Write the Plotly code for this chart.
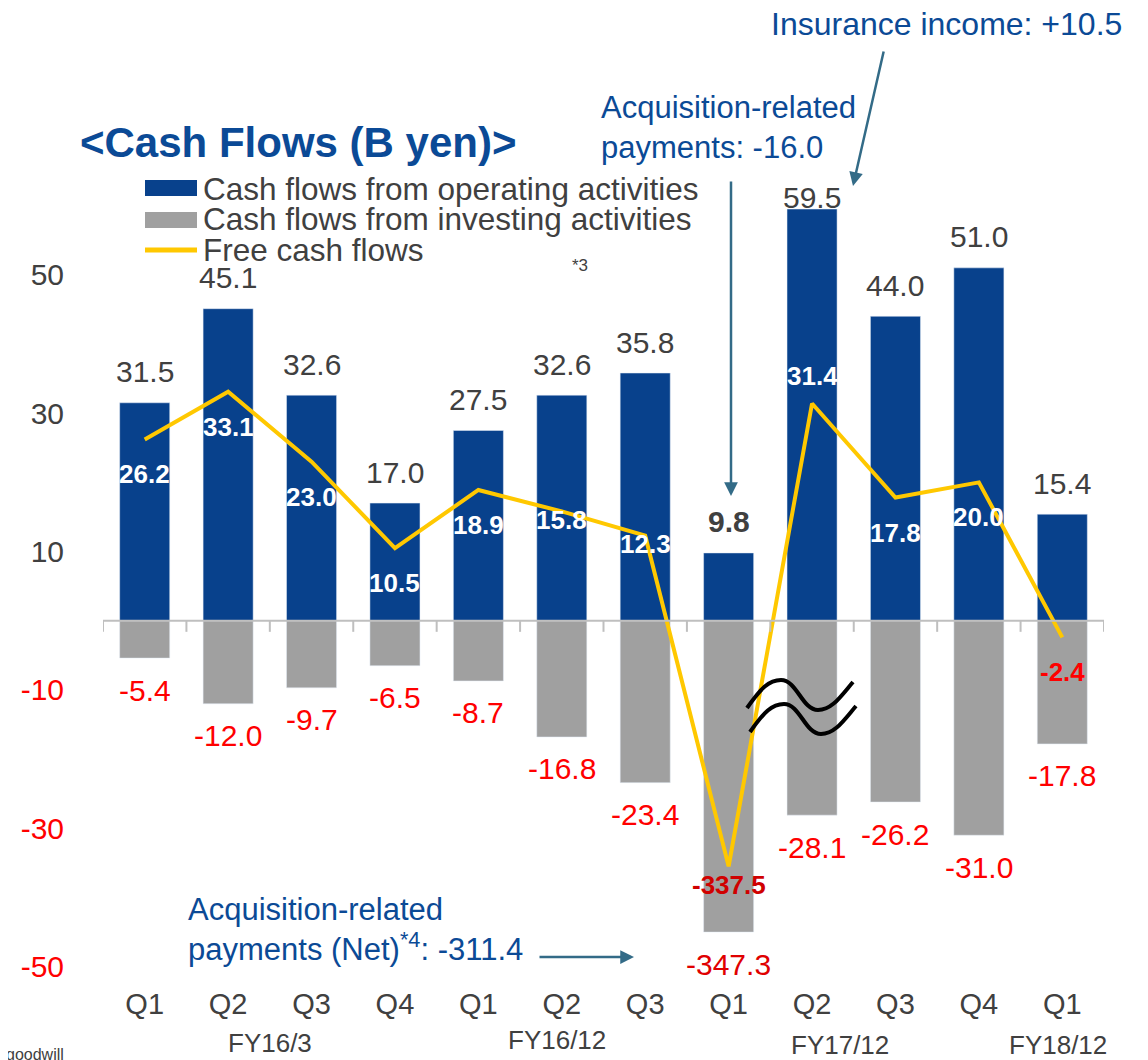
import plotly.graph_objects as go

# ---------------- data ----------------
quarters = ["Q1", "Q2", "Q3", "Q4", "Q1", "Q2", "Q3", "Q1", "Q2", "Q3", "Q4", "Q1"]
fiscal_years = ["FY16/3", "FY16/12", "FY17/12", "FY18/12"]
fiscal_groups = [(0, 3), (4, 6), (7, 10), (11, 11)]
operating = [31.5, 45.1, 32.6, 17.0, 27.5, 32.6, 35.8, 9.8, 59.5, 44.0, 51.0, 15.4]
investing = [-5.4, -12.0, -9.7, -6.5, -8.7, -16.8, -23.4, -347.3, -28.1, -26.2, -31.0, -17.8]
free_cf = [26.2, 33.1, 23.0, 10.5, 18.9, 15.8, 12.3, -337.5, 31.4, 17.8, 20.0, -2.4]
y_ticks = [50, 30, 10, -10, -30, -50]

# broken axis: values beyond the break are drawn at a compressed position
BREAK_LIMIT = -100
BREAK_DRAW_INVESTING = -45.0
BREAK_DRAW_FCF = -35.5
investing_drawn = [v if v > BREAK_LIMIT else BREAK_DRAW_INVESTING for v in investing]
fcf_drawn = [v if v > BREAK_LIMIT else BREAK_DRAW_FCF for v in free_cf]
x = list(range(len(quarters)))

# ---------------- geometry / style ----------------
OFF = 8  # page body margin
W, H = 1140, 1052
L, T = 95, 163
PW, PH = 1001, 813
R, B = W - L - PW, H - T - PH
Y_RANGE = [-52.5, 65]


def px(v):  # page pixel -> paper x
    return (v - OFF - L) / PW


def py(v):  # page pixel -> paper y
    return (OFF + T + PH - v) / PH


BLUE = "#08418C"
GRAY = "#A0A0A0"
YELLOW = "#FFC800"
DARK = "#404040"
RED = "#FF0000"
TXT_BLUE = "#0B4A96"
ARROW = "#336B87"
FONT = "Liberation Sans, Arial, sans-serif"
LBL = 30

fig = go.Figure()
fig.add_trace(go.Bar(x=x, y=operating, marker_color=BLUE, width=0.6,
                     name="Cash flows from operating activities", showlegend=False))
fig.add_trace(go.Bar(x=x, y=investing_drawn, marker_color=GRAY, width=0.6,
                     name="Cash flows from investing activities", showlegend=False))
fig.add_trace(go.Scatter(x=x, y=fcf_drawn, mode="lines", line=dict(color=YELLOW, width=4),
                         name="Free cash flows", showlegend=False))

ann = []
shapes = []

# operating labels (above bars)
for i, v in enumerate(operating):
    bold = (i == 7)
    ann.append(dict(x=i, y=v, xref="x", yref="y", text=(f"<b>{v:.1f}</b>" if bold else f"{v:.1f}"),
                    showarrow=False, yanchor="middle", yshift=(12 if i == 8 else 31),
                    font=dict(size=LBL, color=DARK, family=FONT)))

# investing labels (below bars)
for i, v in enumerate(investing):
    d = investing_drawn[i]
    ann.append(dict(x=i, y=d, xref="x", yref="y", text=f"{v:.1f}", showarrow=False,
                    yanchor="middle", yshift=-32,
                    font=dict(size=LBL, color=("#E00000" if v <= BREAK_LIMIT else RED), family=FONT)))

# free cash flow labels
fcf_shift = {5: -9, 6: -8, 7: -19, 8: 27}
for i, v in enumerate(free_cf):
    d = fcf_drawn[i]
    if v < 0:
        col = "#D00000" if v <= BREAK_LIMIT else RED
    else:
        col = "white"
    ann.append(dict(x=i, y=d, xref="x", yref="y", text=f"<b>{v:.1f}</b>", showarrow=False,
                    yanchor="middle", yshift=fcf_shift.get(i, -35),
                    font=dict(size=26, color=col, family=FONT)))

# fiscal-year labels
fy_y = [1043, 1040, 1045, 1045]
fy_dx = [0, -5, -14, -4]
for name, (a, b), yy, dx in zip(fiscal_years, fiscal_groups, fy_y, fy_dx):
    ann.append(dict(x=(a + b) / 2, y=py(yy), xref="x", yref="paper", text=name, showarrow=False,
                    xshift=dx, yanchor="middle", font=dict(size=26, color=DARK, family=FONT)))

# title
ann.append(dict(x=px(78), y=py(142), xref="paper", yref="paper", xanchor="left", yanchor="middle",
                text="<b>&lt;Cash Flows (B yen)&gt;</b>", showarrow=False,
                font=dict(size=42, color=TXT_BLUE, family=FONT)))

# manual legend
legend_items = ["Cash flows from operating activities", "Cash flows from investing activities", "Free cash flows"]
legend_y = [189, 219, 250]
for txt, yy in zip(legend_items, legend_y):
    ann.append(dict(x=px(201), y=py(yy), xref="paper", yref="paper", xanchor="left", yanchor="middle",
                    text=txt, showarrow=False, font=dict(size=31.5, color=DARK, family=FONT)))
shapes.append(dict(type="rect", xref="paper", yref="paper", x0=px(145), x1=px(197),
                   y0=py(196), y1=py(180), fillcolor=BLUE, line=dict(width=0)))
shapes.append(dict(type="rect", xref="paper", yref="paper", x0=px(145), x1=px(197),
                   y0=py(228), y1=py(212), fillcolor=GRAY, line=dict(width=0)))
shapes.append(dict(type="line", xref="paper", yref="paper", x0=px(145), x1=px(197),
                   y0=py(250), y1=py(250), line=dict(color=YELLOW, width=5)))

# callouts
ann.append(dict(x=px(769), y=py(24), xref="paper", yref="paper", xanchor="left", yanchor="middle",
                text="Insurance income: +10.5", showarrow=False,
                font=dict(size=32, color=TXT_BLUE, family=FONT)))
ann.append(dict(x=px(599), y=py(127), xref="paper", yref="paper", xanchor="left", yanchor="middle",
                text="Acquisition-related<br>payments: -16.0", showarrow=False, align="left",
                font=dict(size=31, color=TXT_BLUE, family=FONT)))
ann.append(dict(x=px(570), y=py(265), xref="paper", yref="paper", xanchor="left", yanchor="middle",
                text="*3", showarrow=False, font=dict(size=17, color=DARK, family=FONT)))
ann.append(dict(x=px(186), y=py(929), xref="paper", yref="paper", xanchor="left", yanchor="middle",
                text="Acquisition-related<br>payments (Net)<sup>*4</sup>: -311.4", showarrow=False,
                align="left", font=dict(size=31, color=TXT_BLUE, family=FONT)))
ann.append(dict(x=px(66), y=py(1054), xref="paper", yref="paper", xanchor="right", yanchor="middle",
                text="goodwill", showarrow=False, font=dict(size=16, color=DARK, family=FONT)))

# arrows
for (tx, ty, sx, sy) in [(853, 186, 884, 50), (731, 496, 731, 180), (634, 957, 538, 957)]:
    ann.append(dict(x=px(tx), y=py(ty), xref="paper", yref="paper", ax=sx - tx, ay=sy - ty,
                    axref="pixel", ayref="pixel", text="", showarrow=True, arrowhead=2,
                    arrowsize=1.1, arrowwidth=2.5, arrowcolor=ARROW))

# zero axis tick marks
for k in range(len(quarters) + 1):
    shapes.append(dict(type="line", xref="x", yref="y", x0=k - 0.5, x1=k - 0.5, y0=0, y1=-1.6,
                       line=dict(color="#BFBFBF", width=2)))
shapes.append(dict(type="line", xref="paper", yref="y", x0=0, x1=1, y0=0, y1=0,
                   line=dict(color="#BFBFBF", width=2)))


# axis-break wave symbol
def wave(pts):
    (x0, y0), (x1, y1), (x2, y2), (x3, y3) = pts
    p = lambda a, b: f"{px(a):.5f},{py(b):.5f}"
    return (f"M {p(x0, y0)} C {p(x0 + 14, y0 - 20)} {p(x1 - 12, y1)} {p(x1, y1)} "
            f"C {p(x1 + 16, y1)} {p(x2 - 16, y2)} {p(x2, y2)} "
            f"C {p(x2 + 14, y2)} {p(x3 - 12, y3 + 14)} {p(x3, y3)}")


shapes.append(dict(type="path", xref="paper", yref="paper",
                   path=wave([(747, 708), (781, 680), (818, 710), (853, 682)]),
                   line=dict(color="black", width=4)))
shapes.append(dict(type="path", xref="paper", yref="paper",
                   path=wave([(750, 732), (784, 704), (821, 734), (856, 706)]),
                   line=dict(color="black", width=4)))

tick_text = [f'<span style="color:{DARK if t > 0 else RED}">{t}</span>' for t in y_ticks]

fig.update_layout(
    width=W, height=H, margin=dict(l=L, r=R, t=T, b=B, autoexpand=False),
    paper_bgcolor="white", plot_bgcolor="white", barmode="relative",
    showlegend=False, annotations=ann, shapes=shapes,
    font=dict(family=FONT, color=DARK),
    xaxis=dict(range=[-0.5, len(quarters) - 0.5], tickvals=x, ticktext=quarters, showgrid=False,
               zeroline=False, showline=False, ticks="", tickfont=dict(size=29, color=DARK)),
    yaxis=dict(range=Y_RANGE, tickvals=y_ticks, ticktext=tick_text, showgrid=False, zeroline=False,
               showline=False, ticks="outside", ticklen=32, tickcolor="rgba(0,0,0,0)",
               tickfont=dict(size=30, color=DARK)),
)

fig.write_html("out.html")
